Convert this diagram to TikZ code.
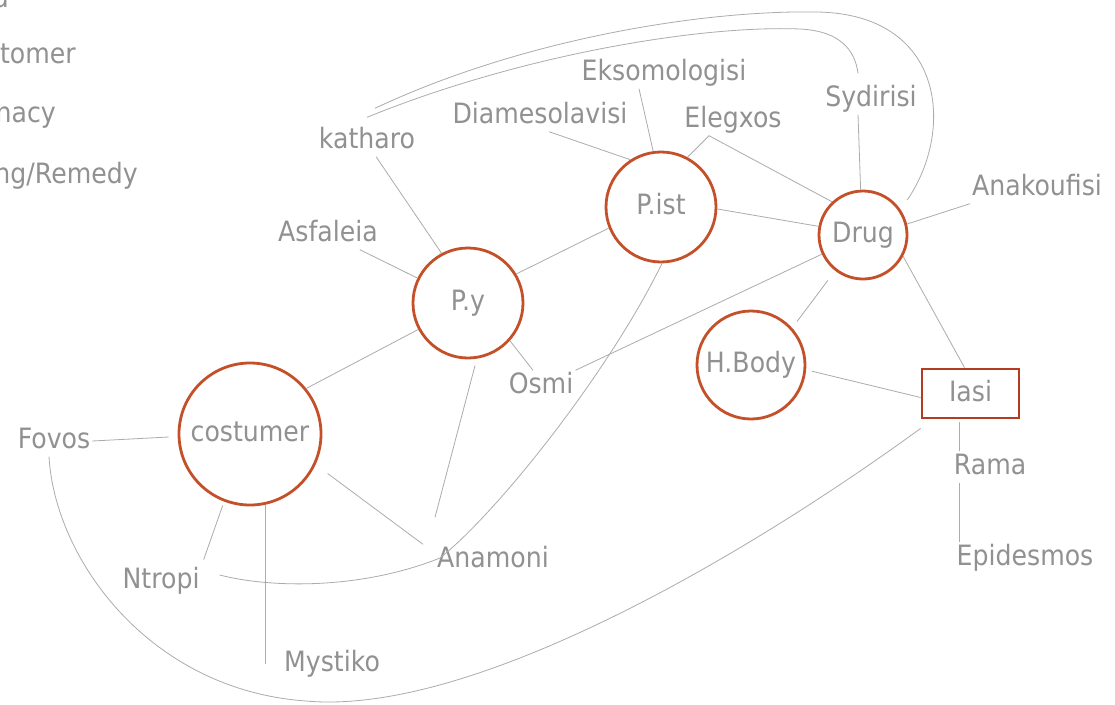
\documentclass[tikz,border=0pt]{standalone}
\usepackage{fontspec}
\setmainfont{DejaVu Sans}[FakeStretch=0.9]
\definecolor{txt}{RGB}{145,145,145}
\definecolor{lnc}{RGB}{172,172,172}
\definecolor{circc}{RGB}{196,80,42}
\definecolor{boxc}{RGB}{180,60,34}
\newcommand\lblf{\fontsize{28}{32}\selectfont}
\tikzset{
  lbl/.style={text=txt, font=\lblf, inner sep=2pt, text height=21pt, text depth=6pt},
  hub/.style={circle, draw=circc, line width=2.8pt, text=txt, font=\lblf, inner sep=0pt, text height=21pt, text depth=6pt},
  conn/.style={draw=lnc, line width=0.8pt},
  leg/.style={text=txt, font=\lblf, inner sep=0pt, anchor=base east}
}
\begin{document}
\begin{tikzpicture}[x=1pt, y=-1pt]
\useasboundingbox (0,0) rectangle (1115,704);
\fill[white] (0,0) rectangle (1115,704);
\clip (0,0) rectangle (1115,704);

% legend fragments (cut by the left edge, as in the reference)
\node[leg] (lg1) at (9,8) {a};
\node[leg] (lg2) at (76,63) {tomer};
\node[leg] (lg3) at (56,122) {nacy};
\node[leg] (lg4) at (138,183) {ng/Remedy};

% labels
\node[lbl] (eks) at (664,73) {Eksomologisi};
\node[lbl] (diam) at (540,116) {Diamesolavisi};
\node[lbl] (eleg) at (733,120) {Elegxos};
\node[lbl] (kath) at (367,141) {katharo};
\node[lbl] (syd) at (871,99) {Sydirisi};
\node[lbl] (anak) at (1037,188) {Anakoufisi};
\node[lbl] (asf) at (328,234) {Asfaleia};
\node[lbl] (osmi) at (541,386) {Osmi};
\node[lbl] (fovos) at (54,441) {Fovos};
\node[lbl] (ntropi) at (161,581) {Ntropi};
\node[lbl] (anam) at (493,560) {Anamoni};
\node[lbl] (myst) at (332,664) {Mystiko};
\node[lbl] (rama) at (990,467) {Rama};
\node[lbl] (epid) at (1025,558) {Epidesmos};

% hubs
\node[hub, minimum size=110pt] (py) at (468,303) {P.y};
\node[hub, minimum size=110pt] (pist) at (661,207) {P.ist};
\node[hub, minimum size=88pt] (drug) at (863,235) {Drug};
\node[hub, minimum size=108pt] (hbody) at (751,365) {H.Body};
\node[hub, minimum size=142pt] (cust) at (250,434) {costumer};
\node[lbl, draw=boxc, line width=2.8pt, minimum width=97pt, minimum height=49pt] (iasi) at (970.5,393.5) {Iasi};

% helper coordinates
\coordinate (elj) at ([xshift=-24pt]eleg.south);
\coordinate (ix) at ([xshift=-11.5pt]iasi.south);

% straight connectors
\draw[conn] (kath.-60) -- (py.118);
\draw[conn] (asf) -- (py);
\draw[conn] (diam.-60) -- (pist.123);
\draw[conn] ([xshift=-25pt]eks.south) -- (pist.98);
\draw[conn] (pist.62) -- (elj) -- (drug.133);
\draw[conn] (pist.-2) -- (drug.169);
\draw[conn] (py.31) -- (pist.202);
\draw[conn] ([xshift=-13pt]syd.south) -- (drug.93);
\draw[conn] (anak.south west) -- (drug.14);
\draw[conn] (drug.205) -- (osmi.north east);
\draw[conn] (py.-42) -- ([xshift=-8pt]osmi.north);
\draw[conn, shorten <=12pt, shorten >=8pt] (drug.-128) -- (hbody.42);
\draw[conn] (drug.-28) -- ([xshift=-6pt]iasi.north);
\draw[conn, shorten <=6pt] (hbody.-5) -- ([yshift=-4pt]iasi.west);
\draw[conn] ([yshift=-3pt]ix) -- (ix |- rama.north);
\draw[conn] (ix |- rama.south) -- (ix |- epid.north);
\draw[conn] (py.208) -- (cust.39);
\draw[conn, shorten <=9pt] (cust.182) -- (fovos.east);
\draw[conn, shorten <=4pt, shorten >=6pt] (cust.-111) -- (ntropi.north east);
\draw[conn] (cust.-78) -- (cust.-78 |- myst.center);
\draw[conn, shorten <=15pt] (cust.-25) -- ([xshift=-12pt]anam.north west);
\draw[conn, shorten <=7pt] (py.-81) -- ([yshift=27pt]anam.north west);

% curved connectors
\draw[conn] (pist.-89) .. controls (610,370) and (500,510) .. (440,558)
  .. controls (360,590) and (270,588) .. ([xshift=18pt,yshift=6pt]ntropi.east);
\draw[conn] ([xshift=-5pt]fovos.south) .. controls (55,560) and (150,690) .. (306,701)
  .. controls (470,716) and (740,560) .. ([yshift=-9pt]iasi.south west);
\draw[conn, shorten >=12pt] ([xshift=8pt,yshift=17pt]kath.north) .. controls (520,40) and (700,10) .. (817,12)
  .. controls (945,14) and (955,130) .. (drug.34);
\draw[conn] ([yshift=8pt]kath.north) .. controls (520,55) and (700,25) .. (800,29)
  .. controls (840,31) and (855,50) .. ([xshift=-13pt,yshift=10pt]syd.north);
\end{tikzpicture}
\end{document}
